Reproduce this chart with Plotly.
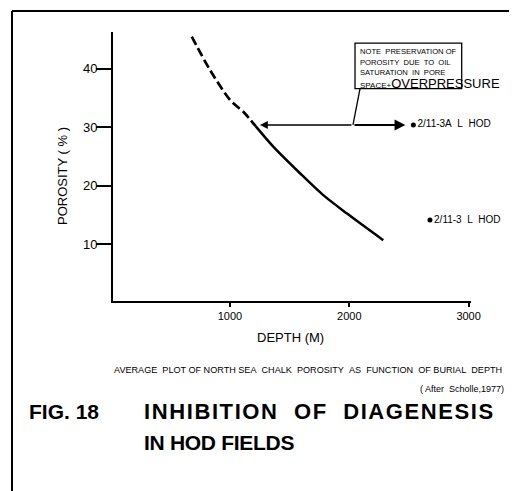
import plotly.graph_objects as go

# ---- data ----
depth_dashed = [680, 833, 1000, 1120, 1215]
por_dashed = [45.5, 39.8, 34.7, 32.5, 30.2]
depth_solid = [1215, 1363, 1587, 1782, 1978, 2285]
por_solid = [30.2, 26.7, 22.15, 18.4, 15.3, 10.7]

wells = ["2/11-3A\u00a0\u00a0L\u00a0\u00a0HOD", "2/11-3\u00a0\u00a0L\u00a0\u00a0HOD"]
well_depth = [2537, 2676]
well_por = [30.4, 14.15]

x_ticks = [1000, 2000, 3000]
y_ticks = [10, 20, 30, 40]

arrow_y = 30.4
arrow_left = 1252
arrow_right = 2470
arrow_mid = 2031
box_x = [2048, 2942]
box_y = [36.6, 44.4]

# page body has an 8px default margin -> compensate
O = 8
W, H = 517 - O, 491 - O
L, R, T, B = 113 - O, 471 - O, 32 - O, 301 - O


def px(xp):
    return (xp - O - L) / (R - L)


def py(yp):
    return (B - (yp - O)) / (B - T)


def nb(s):
    return s.replace("  ", "\u00a0\u00a0")


FONT = "Liberation Sans, Arial, sans-serif"

fig = go.Figure()
fig.add_trace(go.Scatter(x=depth_dashed, y=por_dashed, mode="lines",
                         line=dict(color="black", width=2.7, dash="9px,4px",
                                   shape="spline", smoothing=0.8),
                         hoverinfo="skip"))
fig.add_trace(go.Scatter(x=depth_solid, y=por_solid, mode="lines",
                         line=dict(color="black", width=2.5, shape="spline",
                                   smoothing=0.8),
                         hoverinfo="skip"))
fig.add_trace(go.Scatter(x=well_depth, y=well_por, mode="markers+text",
                         marker=dict(color="black", size=5),
                         text=wells, textposition="middle right",
                         textfont=dict(family=FONT, size=10, color="black"),
                         cliponaxis=False, hoverinfo="skip"))

shapes = []
# callout box and pointer
shapes.append(dict(type="rect", xref="x", yref="y", x0=box_x[0], x1=box_x[1],
                   y0=box_y[0], y1=box_y[1], line=dict(color="black", width=1.3)))
shapes.append(dict(type="line", xref="x", yref="y", x0=2090, x1=arrow_mid,
                   y0=box_y[0], y1=arrow_y, line=dict(color="black", width=1.3)))
# frame
shapes.append(dict(type="line", xref="paper", yref="paper", x0=px(12), x1=px(12),
                   y0=py(11), y1=py(495), line=dict(color="black", width=2)))
shapes.append(dict(type="line", xref="paper", yref="paper", x0=px(12), x1=px(520),
                   y0=py(11), y1=py(11), line=dict(color="black", width=2)))
shapes.append(dict(type="line", xref="paper", yref="paper", x0=px(514), x1=px(514),
                   y0=py(200), y1=py(495), line=dict(color="black", width=2)))

ann = []
# double-headed arrow (two arrows from the pointer junction)
ann.append(dict(x=arrow_left, y=arrow_y, ax=arrow_mid, ay=arrow_y, xref="x", yref="y",
                axref="x", ayref="y", showarrow=True, arrowhead=2, arrowsize=1.2,
                arrowwidth=1.3, arrowcolor="black", text=""))
ann.append(dict(x=arrow_right, y=arrow_y, ax=arrow_mid, ay=arrow_y, xref="x", yref="y",
                axref="x", ayref="y", showarrow=True, arrowhead=2, arrowsize=1.2,
                arrowwidth=1.8, arrowcolor="black", text=""))

note_lines = ["NOTE  PRESERVATION OF", "POROSITY  DUE  TO  OIL", "SATURATION  IN  PORE"]
note_y = [51.7, 62.0, 72.0]
for t, yy in zip(note_lines, note_y):
    ann.append(dict(x=px(357.5), y=py(yy), xref="paper", yref="paper", text=nb(t),
                    showarrow=False, xanchor="left", yanchor="middle",
                    font=dict(family=FONT, size=7.6, color="black")))
ann.append(dict(x=px(357.5), y=py(83), xref="paper", yref="paper",
                text="SPACE+<span style='font-size:13px'>OVERPRESSURE</span>",
                showarrow=False, xanchor="left", yanchor="middle",
                font=dict(family=FONT, size=8, color="black")))

# axis titles
ann.append(dict(x=px(62), y=py(176), xref="paper", yref="paper", text="POROSITY ( % )",
                textangle=-90, showarrow=False, xanchor="center", yanchor="middle",
                font=dict(family=FONT, size=13, color="black")))
ann.append(dict(x=px(290), y=py(337), xref="paper", yref="paper", text="DEPTH (M)",
                showarrow=False, xanchor="center", yanchor="middle",
                font=dict(family=FONT, size=13, color="black")))

# captions
ann.append(dict(x=px(112), y=py(370), xref="paper", yref="paper",
                text=nb("AVERAGE  PLOT OF NORTH SEA  CHALK  POROSITY  AS  FUNCTION  OF BURIAL  DEPTH"),
                showarrow=False, xanchor="left", yanchor="middle",
                font=dict(family=FONT, size=9.1, color="black")))
ann.append(dict(x=px(462), y=py(389), xref="paper", yref="paper",
                text=nb("( After  Scholle,1977)"),
                showarrow=False, xanchor="center", yanchor="middle",
                font=dict(family=FONT, size=9, color="black")))
ann.append(dict(x=px(27), y=py(411), xref="paper", yref="paper",
                text="<b>FIG. 18</b>",
                showarrow=False, xanchor="left", yanchor="middle",
                font=dict(family=FONT, size=21, color="black")))
ann.append(dict(x=px(142), y=py(411), xref="paper", yref="paper",
                text="<b><span style='letter-spacing:1.6px'>" + nb("INHIBITION  OF  DIAGENESIS") + "</span></b>",
                showarrow=False, xanchor="left", yanchor="middle",
                font=dict(family=FONT, size=22, color="black")))
ann.append(dict(x=px(142), y=py(442), xref="paper", yref="paper",
                text="<b><span style='letter-spacing:-0.3px'>IN HOD FIELDS</span></b>",
                showarrow=False, xanchor="left", yanchor="middle",
                font=dict(family=FONT, size=21, color="black")))

fig.update_layout(
    width=W, height=H,
    margin=dict(l=L, r=W - R, t=T, b=H - B),
    paper_bgcolor="white", plot_bgcolor="white",
    showlegend=False,
    shapes=shapes, annotations=ann,
    xaxis=dict(range=[20, 3020], tickvals=x_ticks, ticks="outside", ticklen=4,
               tickwidth=1.5, tickcolor="black", showline=True, linewidth=2,
               linecolor="black", showgrid=False, zeroline=False,
               tickfont=dict(family=FONT, size=11, color="black")),
    yaxis=dict(range=[0.3, 46.3], tickvals=y_ticks, ticks="outside", ticklen=15,
               tickwidth=1.5, tickcolor="black", showline=True, linewidth=2,
               linecolor="black", showgrid=False, zeroline=False,
               ticklabelstandoff=-4,
               tickfont=dict(family=FONT, size=13, color="black")),
)

fig.write_html("out.html")
